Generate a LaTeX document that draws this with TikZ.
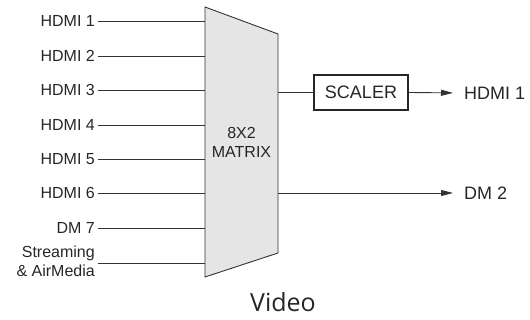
\documentclass[tikz,border=0pt]{standalone}
\usepackage{fontspec}
\setmainfont{Liberation Sans}
\newfontfamily\videofont{Open Sans}
\usetikzlibrary{arrows.meta, positioning, calc}

\begin{document}
\begin{tikzpicture}[
        x=1pt, y=-1pt,
        inlabel/.style={anchor=east, inner ysep=0pt, inner xsep=2.5pt, font=\fontsize{16}{19}\selectfont, text=black!85},
        outlabel/.style={anchor=west, inner sep=0pt, font=\fontsize{18}{18}\selectfont, text=black!85},
        sig/.style={draw=black!80, line width=0.9pt},
        outsig/.style={sig, -{Triangle[length=12pt, width=6pt]}, shorten >=11pt},
        mux/.style={draw=black!80, fill=black!10, line width=0.9pt},
        scalerbox/.style={rectangle, draw=black!85, line width=1.8pt, minimum width=94pt, minimum height=35pt, inner sep=0pt, font=\fontsize{18}{18}\selectfont, text=black!85}
    ]
    \useasboundingbox (0,0) rectangle (530,320);

    % Matrix switcher
    \coordinate (mtl) at (205,7);
    \coordinate (mtr) at (278,34);
    \coordinate (mbr) at (278,253);
    \coordinate (mbl) at (205,277);
    \draw[mux] (mtl) -- (mtr) -- (mbr) -- (mbl) -- cycle;
    \node[align=center, font=\fontsize{16}{19}\selectfont, text=black!85] (mxlabel) at (241.5,142) {8X2\\MATRIX};

    % Inputs
    \node[inlabel] (hdmi1) at (97.5,21) {HDMI 1};
    \node[inlabel] (hdmi2) at (97.5,56) {HDMI 2};
    \node[inlabel] (hdmi3) at (97.5,90) {HDMI 3};
    \node[inlabel] (hdmi4) at (97.5,125) {HDMI 4};
    \node[inlabel] (hdmi5) at (97.5,159) {HDMI 5};
    \node[inlabel] (hdmi6) at (97.5,193) {HDMI 6};
    \node[inlabel] (dm7) at (97.5,228) {DM 7};
    \node[inlabel, align=right] (stream) at (97.5,261) {Streaming\\\& AirMedia};

    \draw[sig] (hdmi1.east) -- (hdmi1.east -| mtl);
    \draw[sig] (hdmi2.east) -- (hdmi2.east -| mtl);
    \draw[sig] (hdmi3.east) -- (hdmi3.east -| mtl);
    \draw[sig] (hdmi4.east) -- (hdmi4.east -| mtl);
    \draw[sig] (hdmi5.east) -- (hdmi5.east -| mtl);
    \draw[sig] (hdmi6.east) -- (hdmi6.east -| mtl);
    \draw[sig] (dm7.east) -- (dm7.east -| mtl);
    \draw[sig] ([yshift=-2pt]stream.east) -- ([yshift=-2pt]stream.east -| mtl);

    % Outputs
    \node[scalerbox] (scaler) at (361,92.5) {SCALER};
    \node[outlabel] (hdmiout) at (464,93) {HDMI 1};
    \node[outlabel] (dmout) at (464,193) {DM 2};

    \draw[sig] (scaler.west -| mtr) -- (scaler.west);
    \draw[outsig] (scaler.east) -- (hdmiout.west);
    \draw[outsig] (dmout.west -| mtr) -- (dmout.west);

    % Caption
    \node[anchor=base, inner sep=0pt, font=\videofont\fontsize{25}{25}\selectfont, text=black!85] (video) at (283,312) {Video};

\end{tikzpicture}
\end{document}
